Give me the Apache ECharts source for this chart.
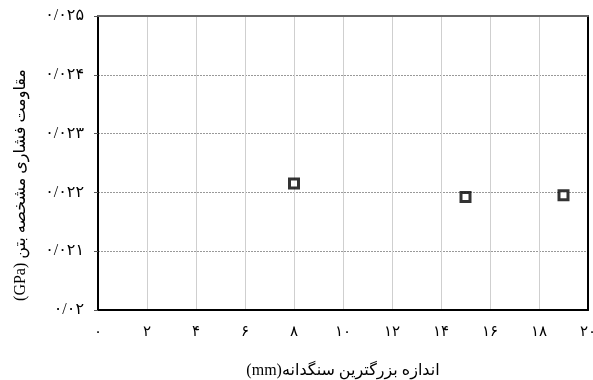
<!DOCTYPE html>
<html>
<head>
<meta charset="utf-8">
<script src="https://cdn.jsdelivr.net/npm/echarts@6/dist/echarts.min.js"></script>
<style>
  html, body { margin: 0; padding: 0; background: #fff; }
  #chart { width: 593px; height: 380px; }
</style>
</head>
<body>
<div id="chart"></div>
<script>
// Maximum aggregate size (mm) and characteristic compressive strength (GPa)
const aggregateSize = [8, 15, 19];
const strength = [0.02215, 0.02192, 0.02195];

// Tick labels in Persian digits
const xTickLabels = ['۰', '۲', '۴', '۶', '۸', '۱۰', '۱۲', '۱۴', '۱۶', '۱۸', '۲۰'];
const yTickLabels = ['۰/۰۲', '۰/۰۲۱', '۰/۰۲۲', '۰/۰۲۳', '۰/۰۲۴', '۰/۰۲۵'];

// Axis titles, wrapped in a right-to-left embedding so the Latin units sit on the left
const rtl = s => '\u202B' + s + '\u202C';
const xTitle = rtl('اندازه بزرگترین سنگدانه(mm)');
const yTitle = rtl('مقاومت فشاری مشخصه بتن (GPa)');

const X_MIN = 0, X_MAX = 20, X_STEP = 2;
const Y_MIN = 0.020, Y_MAX = 0.025, Y_STEP = 0.001;

const font = '"Liberation Serif", "DejaVu Sans", serif';

const chart = echarts.init(document.getElementById('chart'), null, { renderer: 'canvas' });

chart.setOption({
  backgroundColor: '#fff',
  animation: false,
  grid: { left: 98, right: 5, top: 16, bottom: 70, containLabel: false, outerBoundsMode: 'none' },
  xAxis: [
    {
      type: 'value',
      min: X_MIN, max: X_MAX, interval: X_STEP,
      position: 'bottom',
      name: xTitle,
      nameLocation: 'middle',
      nameGap: 53,
      nameTextStyle: { fontFamily: font, fontSize: 16, color: '#000' },
      axisLine: { show: true, onZero: false, lineStyle: { color: '#000', width: 2 } },
      axisTick: { show: false },
      axisLabel: {
        margin: 15,
        fontFamily: font, fontSize: 15, color: '#000',
        formatter: v => xTickLabels[Math.round((v - X_MIN) / X_STEP)]
      },
      splitLine: { show: true, lineStyle: { color: '#cfcfcf', width: 1 } }
    },
    {
      type: 'value',
      min: X_MIN, max: X_MAX, interval: X_STEP,
      position: 'top',
      axisLine: { show: true, onZero: false, lineStyle: { color: '#666', width: 2 } },
      axisTick: { show: false },
      axisLabel: { show: false },
      splitLine: { show: false }
    }
  ],
  yAxis: [
    {
      type: 'value',
      min: Y_MIN, max: Y_MAX, interval: Y_STEP,
      position: 'left',
      name: yTitle,
      nameLocation: 'middle',
      nameRotate: 90,
      nameGap: 69,
      nameTextStyle: { fontFamily: font, fontSize: 16, color: '#000', padding: [0, 44, 0, 0] },
      axisLine: { show: true, onZero: false, lineStyle: { color: '#000', width: 2 } },
      axisTick: { show: true, length: 4, inside: false, lineStyle: { color: '#555', width: 1 } },
      axisLabel: {
        margin: 14,
        fontFamily: font, fontSize: 16, color: '#000',
        formatter: v => yTickLabels[Math.round((v - Y_MIN) / Y_STEP)]
      },
      splitLine: { show: true, lineStyle: { color: '#999', width: 1, type: [2, 1] } }
    },
    {
      type: 'value',
      min: Y_MIN, max: Y_MAX, interval: Y_STEP,
      position: 'right',
      axisLine: { show: true, onZero: false, lineStyle: { color: '#000', width: 2 } },
      axisTick: { show: false },
      axisLabel: { show: false },
      splitLine: { show: false }
    }
  ],
  series: [
    {
      type: 'scatter',
      xAxisIndex: 0,
      yAxisIndex: 0,
      data: aggregateSize.map((x, i) => [x, strength[i]]),
      symbol: 'rect',
      symbolSize: 9,
      itemStyle: { color: '#fff', borderColor: '#000', borderWidth: 3 }
    }
  ]
});
</script>
</body>
</html>
